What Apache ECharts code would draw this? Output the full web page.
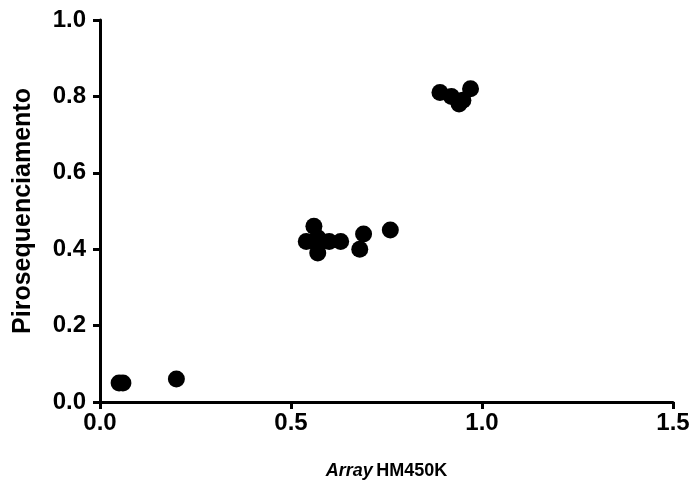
<!DOCTYPE html>
<html><head><meta charset="utf-8">
<script src="https://cdn.jsdelivr.net/npm/echarts@6/dist/echarts.min.js"></script>
<style>html,body{margin:0;padding:0;background:#fff}#c{width:696px;height:487px}</style>
</head><body><div id="c"></div>
<script>
var arrayX = [0.05, 0.06, 0.20, 0.54, 0.56, 0.56, 0.57, 0.57, 0.58, 0.60, 0.63, 0.68, 0.69, 0.76, 0.89, 0.92, 0.94, 0.95, 0.97];
var piroY  = [0.05, 0.05, 0.06, 0.42, 0.46, 0.42, 0.39, 0.43, 0.42, 0.42, 0.42, 0.40, 0.44, 0.45, 0.81, 0.80, 0.78, 0.79, 0.82];
var xTicks = ['0.0', '0.5', '1.0', '1.5'];
var yTicks = ['0.0', '0.2', '0.4', '0.6', '0.8', '1.0'];
var pts = arrayX.map(function(x, i){ return [x, piroY[i]]; });
var font = 'Liberation Sans, Arial, sans-serif';
var chart = echarts.init(document.getElementById('c'));
chart.setOption({
  animation: false,
  grid: {left: 100, right: 23, top: 20, bottom: 85},
  xAxis: {
    type: 'value', min: 0, max: 1.5, interval: 0.5,
    axisLine: {show: true, onZero: false, lineStyle: {color: '#000', width: 3}},
    axisTick: {show: true, length: 7, lineStyle: {color: '#000', width: 3}},
    splitLine: {show: false},
    axisLabel: {margin: 9, color: '#000', fontFamily: font, fontWeight: 'bold', fontSize: 24,
      formatter: function(v){ return xTicks[Math.round(v / 0.5)]; }},
    name: '{i|Array} {b|HM450K}', nameLocation: 'middle', nameGap: 60,
    nameTextStyle: {rich: {
      i: {fontFamily: font, fontWeight: 'bold', fontStyle: 'italic', fontSize: 18, color: '#000'},
      b: {fontFamily: font, fontWeight: 'bold', fontSize: 18, color: '#000'}
    }}
  },
  yAxis: {
    type: 'value', min: 0, max: 1.0, interval: 0.2,
    axisLine: {show: true, onZero: false, lineStyle: {color: '#000', width: 3}},
    axisTick: {show: true, length: 7, lineStyle: {color: '#000', width: 3}},
    splitLine: {show: false},
    axisLabel: {margin: 14, color: '#000', fontFamily: font, fontWeight: 'bold', fontSize: 24,
      formatter: function(v){ return yTicks[Math.round(v / 0.2)]; }},
    name: 'Pirosequenciamento', nameLocation: 'middle', nameGap: 64,
    nameTextStyle: {fontFamily: font, fontWeight: 'bold', fontSize: 25, color: '#000'}
  },
  series: [{
    type: 'scatter', data: pts, symbol: 'circle', symbolSize: 17,
    itemStyle: {color: '#000', opacity: 1}
  }]
});
</script></body></html>
